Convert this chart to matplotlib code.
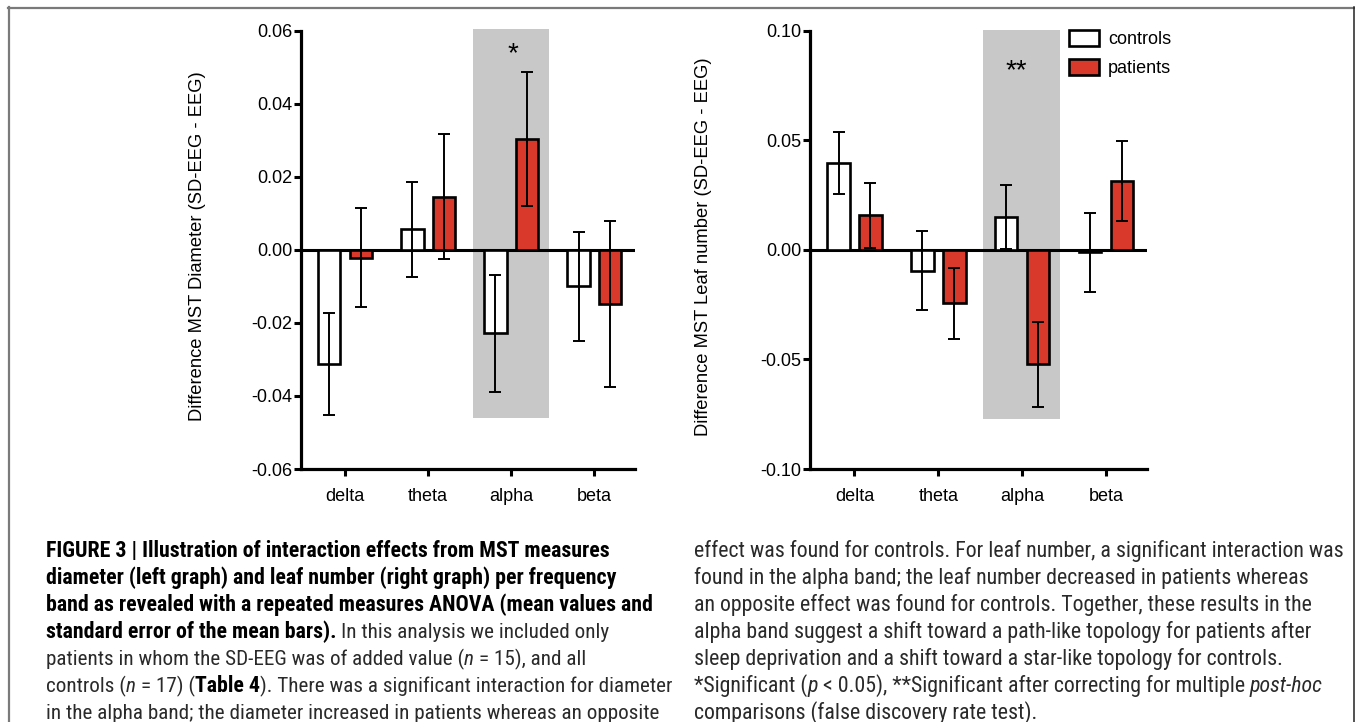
import matplotlib
matplotlib.use('Agg')
import matplotlib.pyplot as plt
from matplotlib import font_manager
from matplotlib.lines import Line2D
from matplotlib.patches import Rectangle
import numpy as np

# ---------------- data ----------------
bands = ['delta', 'theta', 'alpha', 'beta']

diam_controls = [-0.0313, 0.0057, -0.0228, -0.0100]
diam_controls_se = [0.0140, 0.0130, 0.0160, 0.0150]
diam_patients = [-0.0021, 0.0146, 0.0303, -0.0148]
diam_patients_se = [0.0135, 0.0172, 0.0184, 0.0228]

leaf_controls = [0.0396, -0.0095, 0.0149, -0.0012]
leaf_controls_se = [0.0141, 0.0181, 0.0147, 0.0182]
leaf_patients = [0.0157, -0.0244, -0.0523, 0.0313]
leaf_patients_se = [0.0148, 0.0162, 0.0196, 0.0183]

diam_ticks = [-0.06, -0.04, -0.02, 0.00, 0.02, 0.04, 0.06]
leaf_ticks = [-0.10, -0.05, 0.00, 0.05, 0.10]

series_labels = ['controls', 'patients']
diam_ylabel = 'Difference MST Diameter (SD-EEG - EEG)'
leaf_ylabel = 'Difference MST Leaf number (SD-EEG - EEG)'

caption_left = [
    [("FIGURE 3 | Illustration of interaction effects from MST measures", 'b')],
    [("diameter (left graph) and leaf number (right graph) per frequency", 'b')],
    [("band as revealed with a repeated measures ANOVA (mean values and", 'b')],
    [("standard error of the mean bars).", 'b'), (" In this analysis we included only", 'r')],
    [("patients in whom the SD-EEG was of added value (", 'r'), ("n", 'i'), (" = 15), and all", 'r')],
    [("controls (", 'r'), ("n", 'i'), (" = 17) (", 'r'), ("Table 4", 'b'),
     ("). There was a significant interaction for diameter", 'r')],
    [("in the alpha band; the diameter increased in patients whereas an opposite", 'r')],
]
caption_right = [
    [("effect was found for controls. For leaf number, a significant interaction was", 'r')],
    [("found in the alpha band; the leaf number decreased in patients whereas", 'r')],
    [("an opposite effect was found for controls. Together, these results in the", 'r')],
    [("alpha band suggest a shift toward a path-like topology for patients after", 'r')],
    [("sleep deprivation and a shift toward a star-like topology for controls.", 'r')],
    [("*Significant (", 'r'), ("p", 'i'), (" < 0.05), **Significant after correcting for multiple ", 'r'),
     ("post-hoc", 'i')],
    [("comparisons (false discovery rate test).", 'r')],
]

# ---------------- style ----------------
W, H = 1355, 722
RED = '#d8392b'
SHADE = '#c8c8c8'
plt.rcParams['axes.unicode_minus'] = False
plt.rcParams['font.family'] = ['Liberation Sans', 'DejaVu Sans']


def find_condensed():
    names = sorted({f.name for f in font_manager.fontManager.ttflist})
    for pref in ('Liberation Sans Narrow', 'Roboto Condensed', 'Open Sans Condensed',
                 'Noto Sans Condensed', 'DejaVu Sans Condensed'):
        if pref in names:
            return pref
    for n in names:
        if ('Narrow' in n or 'Condensed' in n) and 'Mono' not in n and 'Serif' not in n:
            return n
    return 'Liberation Sans'


CAP_FONT = find_condensed()

fig = plt.figure(figsize=(W / 100, H / 100), dpi=100)
fig.patch.set_facecolor('white')


def px_rect(x0, y0, x1, y1):
    return [x0 / W, 1 - y1 / H, (x1 - x0) / W, (y1 - y0) / H]


LABEL_FS = 13
BAR_W = 0.27
OFF = 0.19


def panel(ax, controls, cse, patients, pse, ticks, shade_lo, shade_hi):
    x = np.arange(len(bands))
    ax.add_patch(Rectangle((2 - 0.465, shade_lo), 0.92, shade_hi - shade_lo,
                           facecolor=SHADE, edgecolor='none', zorder=0, clip_on=False))
    ax.axhline(0, color='black', lw=2.2, zorder=2)
    bc = ax.bar(x - OFF, controls, BAR_W, color='white', edgecolor='black',
                linewidth=1.9, zorder=3, label=series_labels[0])
    bp = ax.bar(x + OFF, patients, BAR_W, color=RED, edgecolor='black',
                linewidth=1.9, zorder=3, label=series_labels[1])
    for xs, v, e in ((x - OFF, controls, cse), (x + OFF, patients, pse)):
        ax.errorbar(xs, v, yerr=e, fmt='none', ecolor='black', elinewidth=1.4,
                    capsize=4.5, capthick=1.4, zorder=4)
    ax.set_xlim(-0.53, 3.49)
    ax.set_ylim(ticks[0], ticks[-1])
    ax.set_yticks(ticks)
    ax.set_yticklabels(['%.2f' % t for t in ticks])
    ax.set_xticks(x)
    ax.set_xticklabels(bands)
    for s in ('top', 'right'):
        ax.spines[s].set_visible(False)
    for s in ('left', 'bottom'):
        ax.spines[s].set_linewidth(2.3)
    ax.tick_params(axis='y', length=5, width=2.2, pad=1, labelsize=LABEL_FS)
    ax.tick_params(axis='x', length=5, width=2.2, pad=9, labelsize=LABEL_FS)
    ax.patch.set_alpha(0)
    return bc, bp


ax1 = fig.add_axes(px_rect(301, 30.7, 635, 469))
panel(ax1, diam_controls, diam_controls_se, diam_patients, diam_patients_se,
      diam_ticks, -0.0461, 0.0605)
ax1.text(2.02, 0.0537, '*', ha='center', va='center', fontsize=20)

ax2 = fig.add_axes(px_rect(810, 30.7, 1147, 469))
bc, bp = panel(ax2, leaf_controls, leaf_controls_se, leaf_patients, leaf_patients_se,
               leaf_ticks, -0.077, 0.1005)
ax2.text(1.93, 0.0815, '**', ha='center', va='center', fontsize=20)

leg = ax2.legend(handles=[bc, bp], labels=series_labels, loc='upper left',
                 bbox_to_anchor=(1069 / W, 1 - 30 / H), bbox_transform=fig.transFigure,
                 frameon=False, fontsize=LABEL_FS, handlelength=1.65, handleheight=1.0,
                 handletextpad=0.5, labelspacing=0.6, borderpad=0, borderaxespad=0)

fig.text(198 / W, 1 - 246 / H, diam_ylabel, rotation=90, ha='center', va='center',
         fontsize=LABEL_FS + 0.2)
fig.text(704 / W, 1 - 247 / H, leaf_ylabel, rotation=90, ha='center', va='center',
         fontsize=LABEL_FS + 0.2)

# ---------------- frame ----------------
fig.add_artist(Line2D([8 / W, 1], [1 - 7.5 / H, 1 - 7.5 / H], color='#7a7a7a', lw=1.6))
fig.add_artist(Line2D([8.5 / W, 8.5 / W], [0, 1 - 7 / H], color='#7a7a7a', lw=1.6))
fig.add_artist(Line2D([1353.5 / W, 1353.5 / W], [0, 1 - 7 / H], color='#222222', lw=1.1))

# ---------------- caption ----------------
renderer = fig.canvas.get_renderer()
SIZES = {}


def style_kw(st, fs):
    kw = dict(fontsize=fs * SIZES.get(st, 1.0), family=[CAP_FONT, 'DejaVu Sans'])
    if st == 'b':
        kw.update(fontweight='bold', color='black')
    elif st == 'i':
        kw.update(fontstyle='italic', color='#2a2a2a')
    else:
        kw.update(color='#2a2a2a')
    return kw


def measure(s, st, fs):
    t = fig.text(0, 0, s, **style_kw(st, fs))
    w = t.get_window_extent(renderer).width
    t.remove()
    return w


def space_w(st, fs):
    return measure('a a', st, fs) - measure('aa', st, fs)


def line_width(segs, fs):
    tot = 0
    for s, st in segs:
        n_sp = (len(s) - len(s.lstrip(' '))) + (len(s) - len(s.rstrip(' ')))
        tot += measure(s.strip(' '), st, fs) + n_sp * space_w(st, fs)
    return tot


# calibrate caption sizes on reference line extents
fs_right = 10 * (1343 - 694) / line_width(caption_right[0], 10)
fs_left = 10 * (666 - 46) / line_width(caption_left[5], 10)
bold_fs = 0.5 * (10 * (640 - 46) / line_width(caption_left[0], 10) +
                 10 * (676 - 46) / line_width(caption_left[2], 10))
SIZES['b'] = 1 + 0.45 * (bold_fs / fs_left - 1)


def rich_line(x_px, y_px, segs, fs):
    x = x_px
    for s, st in segs:
        lead = len(s) - len(s.lstrip(' '))
        trail = len(s) - len(s.rstrip(' '))
        sp = space_w(st, fs)
        x += lead * sp
        core = s.strip(' ')
        t = fig.text(x / W, 1 - y_px / H, core, ha='left', va='baseline', **style_kw(st, fs))
        x += t.get_window_extent(renderer).width + trail * sp


for i, segs in enumerate(caption_left):
    rich_line(46, 557 + 27 * i, segs, fs_left)
for i, segs in enumerate(caption_right):
    rich_line(694, 557 + 27 * i, segs, fs_right)

fig.savefig('out.png', dpi=100, facecolor='white')
